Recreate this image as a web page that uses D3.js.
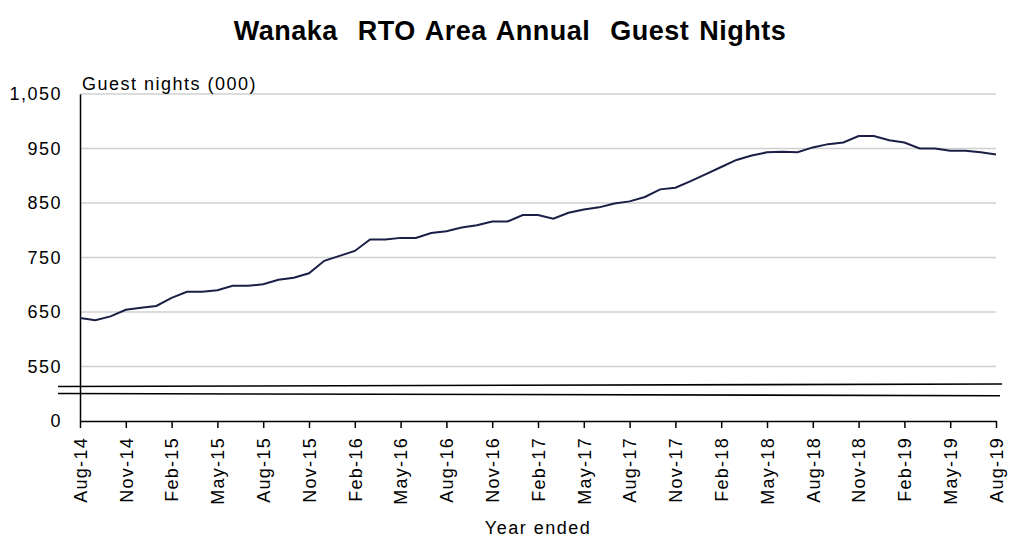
<!DOCTYPE html>
<html>
<head>
<style>
body {
	margin: 0;
	background: #fff;
}
text {
	font-family: "Liberation Sans", Arial, sans-serif;
	fill: #000;
}
</style>
</head>
<body>

<svg width="1010" height="539"></svg>

<script src="https://d3js.org/d3.v7.min.js"></script>
<script>

// year ended, monthly from Aug-14 to Aug-19 (guest nights, 000)
let guestNights = [
	639, 635, 642, 654, 658, 661, 676, 687, 687, 690, 698, 698,
	701, 709, 713, 721, 744, 753, 762, 783, 783, 786, 786, 795,
	798, 805, 809, 816, 816, 828, 828, 821, 832, 838, 842, 849,
	853, 861, 875, 878, 890, 903, 916, 929, 937, 943, 944, 943,
	952, 958, 961, 973, 973, 965, 961, 950, 950, 946, 946, 943,
	939
];

let tickLabels = [
	'Aug-14', 'Nov-14', 'Feb-15', 'May-15', 'Aug-15', 'Nov-15', 'Feb-16',
	'May-16', 'Aug-16', 'Nov-16', 'Feb-17', 'May-17', 'Aug-17', 'Nov-17',
	'Feb-18', 'May-18', 'Aug-18', 'Nov-18', 'Feb-19', 'May-19', 'Aug-19'
];

// 450 is the broken-axis floor, shown as 0
let yTicks = [450, 550, 650, 750, 850, 950, 1050];
let yTickLabels = ['0', '550', '650', '750', '850', '950', '1,050'];

let mLeft = 80, mRight = 996, mTop = 94, mBottom = 421;

let svg = d3.select('svg');

let x = d3.scaleLinear()
	.domain([0, guestNights.length - 1])
	.range([mLeft, mRight]);

let y = d3.scaleLinear()
	.domain([450, 1050])
	.range([mBottom, mTop]);

// gridlines
svg.append('g').selectAll('line').data(yTicks.slice(1)).join('line')
	.attr('x1', mLeft)
	.attr('x2', mRight)
	.attr('y1', function(d) { return y(d); })
	.attr('y2', function(d) { return y(d); })
	.attr('stroke', '#d0d0d0')
	.attr('stroke-width', 1.5);

// y axis
let yAxis = d3.axisLeft(y)
	.tickValues(yTicks)
	.tickSize(0)
	.tickPadding(18)
	.tickFormat(function(d, i) { return yTickLabels[i]; });

let gy = svg.append('g')
	.attr('transform', 'translate(' + mLeft + ',0)')
	.call(yAxis);
gy.attr('font-family', null).attr('font-size', null);
gy.select('.domain').attr('stroke', '#000').attr('stroke-width', 1.5);
gy.selectAll('text')
	.style('font-size', '18px')
	.style('letter-spacing', '1.5px');

// x axis, tick every 3 months
let xTickVals = d3.range(0, guestNights.length, 3);

let xAxis = d3.axisBottom(x)
	.tickValues(xTickVals)
	.tickSize(7)
	.tickSizeOuter(0)
	.tickFormat(function(d, i) { return tickLabels[i]; });

let gx = svg.append('g')
	.attr('transform', 'translate(0,' + mBottom + ')')
	.call(xAxis);
gx.attr('font-family', null).attr('font-size', null);
gx.select('.domain').attr('stroke', '#000').attr('stroke-width', 1.5);
gx.selectAll('line').attr('stroke', '#000').attr('stroke-width', 1.5);
gx.selectAll('text')
	.style('font-size', '18px')
	.style('letter-spacing', '1.3px')
	.attr('text-anchor', 'end')
	.attr('transform', 'rotate(-90)')
	.attr('x', -16)
	.attr('y', 0)
	.attr('dy', '0.35em');

// axis break marks
let breakTop = y(550) + 20, breakBot = y(550) + 27;
svg.append('line')
	.attr('x1', mLeft - 22).attr('y1', breakTop)
	.attr('x2', mRight + 6).attr('y2', breakTop - 2.5)
	.attr('stroke', '#000').attr('stroke-width', 1.6);
svg.append('line')
	.attr('x1', mLeft - 22).attr('y1', breakBot)
	.attr('x2', mRight + 4).attr('y2', breakBot + 2.2)
	.attr('stroke', '#000').attr('stroke-width', 1.6);

// the series
let line = d3.line()
	.x(function(d, i) { return x(i); })
	.y(function(d) { return y(d); });

svg.append('path')
	.datum(guestNights)
	.attr('d', line)
	.attr('fill', 'none')
	.attr('stroke', '#1b1f45')
	.attr('stroke-width', 2);

// titles
svg.append('text')
	.attr('x', 510)
	.attr('y', 40)
	.attr('text-anchor', 'middle')
	.style('font-size', '27px')
	.style('font-weight', 'bold')
	.style('letter-spacing', '0.5px')
	.style('word-spacing', '2px')
	.style('white-space', 'pre')
	.text('Wanaka  RTO Area Annual  Guest Nights');

svg.append('text')
	.attr('x', 82)
	.attr('y', 90)
	.style('font-size', '18px')
	.style('letter-spacing', '1.5px')
	.text('Guest nights (000)');

svg.append('text')
	.attr('x', 538)
	.attr('y', 534)
	.attr('text-anchor', 'middle')
	.style('font-size', '18px')
	.style('letter-spacing', '1.5px')
	.text('Year ended');

</script>
</body>
</html>
